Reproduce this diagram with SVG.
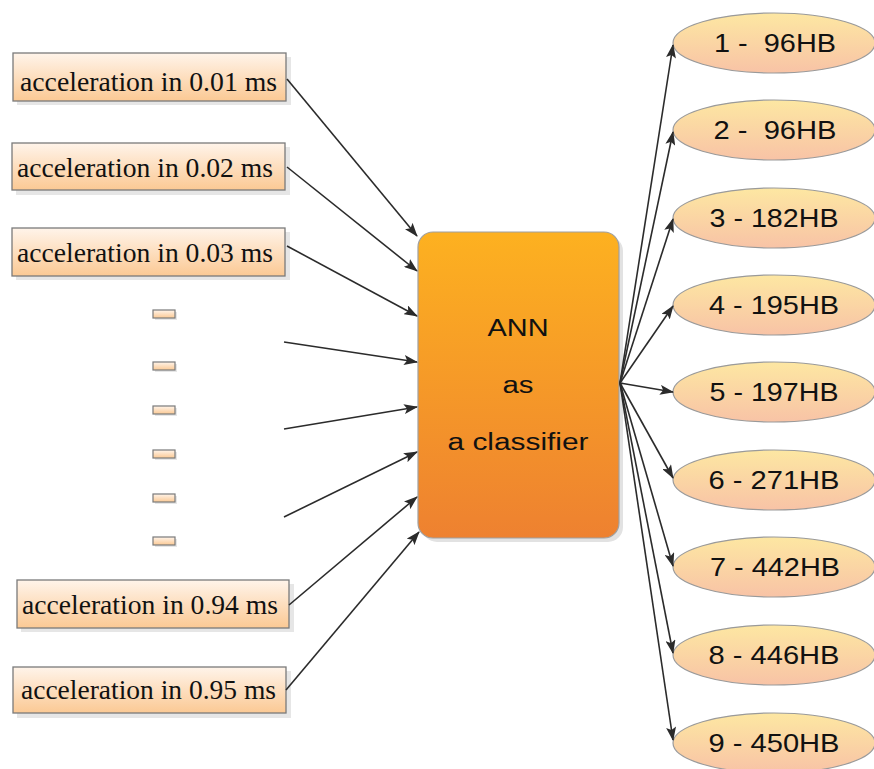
<svg xmlns="http://www.w3.org/2000/svg" width="874" height="769" viewBox="0 0 874 769">
<defs>
<linearGradient id="gIn" x1="0" y1="0" x2="0" y2="1">
<stop offset="0" stop-color="#FFF4EA"/>
<stop offset="1" stop-color="#FBC994"/>
</linearGradient>
<linearGradient id="gAnn" x1="0" y1="0" x2="0" y2="1">
<stop offset="0" stop-color="#FDB120"/>
<stop offset="1" stop-color="#EE8130"/>
</linearGradient>
<linearGradient id="gOut" x1="0" y1="0" x2="0" y2="1">
<stop offset="0" stop-color="#FDE7A2"/>
<stop offset="1" stop-color="#F8C3A6"/>
</linearGradient>
<marker id="ah" viewBox="0 0 14 10" refX="13" refY="5" markerWidth="14" markerHeight="10" markerUnits="userSpaceOnUse" orient="auto">
<path d="M0,0 L14,5 L0,10 L3,5 Z" fill="#2b2b2b"/>
</marker>
</defs>
<style>
.inbox{fill:url(#gIn);stroke:#7a7a7a;stroke-width:1.3}
.shadow{fill:#e6e6e6}
.intext{font-family:"Liberation Serif",serif;font-size:27.5px;fill:#111}
.dash{fill:url(#gIn);stroke:#7a7a7a;stroke-width:1.2}
.out{fill:url(#gOut);stroke:#9a9a9a;stroke-width:1.2}
.outtext{font-family:"Liberation Sans",Arial,sans-serif;font-size:26px;fill:#111;text-anchor:middle}
.anntext{font-family:"Liberation Sans",Arial,sans-serif;font-size:23px;fill:#111;text-anchor:middle}
.conn line{stroke:#2b2b2b;stroke-width:1.6;marker-end:url(#ah)}
</style>
<rect width="874" height="769" fill="#ffffff"/>

<g id="in1"><rect class="shadow" x="17" y="57" width="274" height="48"/><rect class="inbox" x="13" y="53" width="273" height="48"/><text class="intext" x="20" y="91" textLength="257" lengthAdjust="spacingAndGlyphs">acceleration in 0.01 ms</text></g>
<g id="in2"><rect class="shadow" x="16" y="147" width="274" height="48"/><rect class="inbox" x="12" y="143" width="273" height="47"/><text class="intext" x="17" y="177" textLength="256" lengthAdjust="spacingAndGlyphs">acceleration in 0.02 ms</text></g>
<g id="in3"><rect class="shadow" x="16" y="232" width="274" height="48"/><rect class="inbox" x="12" y="228" width="273" height="48"/><text class="intext" x="17" y="262" textLength="256" lengthAdjust="spacingAndGlyphs">acceleration in 0.03 ms</text></g>

<g id="dots">
<rect class="shadow" x="155" y="312" width="22" height="8"/><rect class="dash" x="153" y="310" width="22" height="8"/>
<rect class="shadow" x="155" y="364" width="22" height="8"/><rect class="dash" x="153" y="362" width="22" height="8"/>
<rect class="shadow" x="155" y="408" width="22" height="8"/><rect class="dash" x="153" y="406" width="22" height="8"/>
<rect class="shadow" x="155" y="452" width="22" height="8"/><rect class="dash" x="153" y="450" width="22" height="8"/>
<rect class="shadow" x="155" y="496" width="22" height="8"/><rect class="dash" x="153" y="494" width="22" height="8"/>
<rect class="shadow" x="155" y="539" width="22" height="8"/><rect class="dash" x="153" y="537" width="22" height="8"/>
</g>

<g id="in94"><rect class="shadow" x="21" y="584" width="273" height="48"/><rect class="inbox" x="17" y="580" width="272" height="48"/><text class="intext" x="22" y="614" textLength="256" lengthAdjust="spacingAndGlyphs">acceleration in 0.94 ms</text></g>
<g id="in95"><rect class="shadow" x="17" y="671" width="274" height="47"/><rect class="inbox" x="13" y="667" width="273" height="46"/><text class="intext" x="21" y="699" textLength="255" lengthAdjust="spacingAndGlyphs">acceleration in 0.95 ms</text></g>

<g id="ann">
<rect x="422" y="236" width="201" height="306" rx="15" fill="#e2e2e2"/>
<rect x="418" y="232" width="201" height="306" rx="15" fill="url(#gAnn)" stroke="#a0a0a0" stroke-width="1.2"/>
<text class="anntext" x="518" y="336" textLength="61" lengthAdjust="spacingAndGlyphs">ANN</text>
<text class="anntext" x="518" y="393" textLength="31" lengthAdjust="spacingAndGlyphs">as</text>
<text class="anntext" x="518" y="450" textLength="141" lengthAdjust="spacingAndGlyphs">a classifier</text>
</g>

<g id="o1"><ellipse class="out" cx="774" cy="43" rx="101" ry="30"/><text class="outtext" x="775" y="52" textLength="122" lengthAdjust="spacingAndGlyphs" xml:space="preserve">1 -  96HB</text></g>
<g id="o2"><ellipse class="out" cx="774" cy="130" rx="101" ry="30"/><text class="outtext" x="775" y="139" textLength="123" lengthAdjust="spacingAndGlyphs" xml:space="preserve">2 -  96HB</text></g>
<g id="o3"><ellipse class="out" cx="774" cy="218" rx="101" ry="30"/><text class="outtext" x="774" y="227" textLength="129" lengthAdjust="spacingAndGlyphs">3 - 182HB</text></g>
<g id="o4"><ellipse class="out" cx="774" cy="305" rx="101" ry="30"/><text class="outtext" x="774" y="314" textLength="130" lengthAdjust="spacingAndGlyphs">4 - 195HB</text></g>
<g id="o5"><ellipse class="out" cx="774" cy="392" rx="101" ry="30"/><text class="outtext" x="774" y="401" textLength="129" lengthAdjust="spacingAndGlyphs">5 - 197HB</text></g>
<g id="o6"><ellipse class="out" cx="774" cy="480" rx="101" ry="30"/><text class="outtext" x="774" y="489" textLength="131" lengthAdjust="spacingAndGlyphs">6 - 271HB</text></g>
<g id="o7"><ellipse class="out" cx="774" cy="567" rx="101" ry="30"/><text class="outtext" x="775" y="576" textLength="130" lengthAdjust="spacingAndGlyphs">7 - 442HB</text></g>
<g id="o8"><ellipse class="out" cx="774" cy="655" rx="101" ry="30"/><text class="outtext" x="774" y="664" textLength="131" lengthAdjust="spacingAndGlyphs">8 - 446HB</text></g>
<g id="o9"><ellipse class="out" cx="774" cy="743" rx="101" ry="30"/><text class="outtext" x="774" y="752" textLength="131" lengthAdjust="spacingAndGlyphs">9 - 450HB</text></g>

<g id="connectors" class="conn">
<line x1="287" y1="79" x2="417" y2="236"/>
<line x1="287" y1="167" x2="417" y2="271"/>
<line x1="287" y1="246" x2="417" y2="316"/>
<line x1="284" y1="342" x2="417" y2="362"/>
<line x1="284" y1="429" x2="417" y2="407"/>
<line x1="284" y1="517" x2="417" y2="452"/>
<line x1="289" y1="605" x2="417" y2="497"/>
<line x1="286" y1="690" x2="419" y2="532"/>
<line x1="620" y1="383" x2="673" y2="45"/>
<line x1="620" y1="383" x2="673" y2="132"/>
<line x1="620" y1="383" x2="673" y2="219"/>
<line x1="620" y1="383" x2="673" y2="306"/>
<line x1="620" y1="383" x2="673" y2="392"/>
<line x1="620" y1="383" x2="673" y2="478"/>
<line x1="620" y1="383" x2="673" y2="566"/>
<line x1="620" y1="383" x2="673" y2="653"/>
<line x1="620" y1="383" x2="673" y2="740"/>
</g>
</svg>
